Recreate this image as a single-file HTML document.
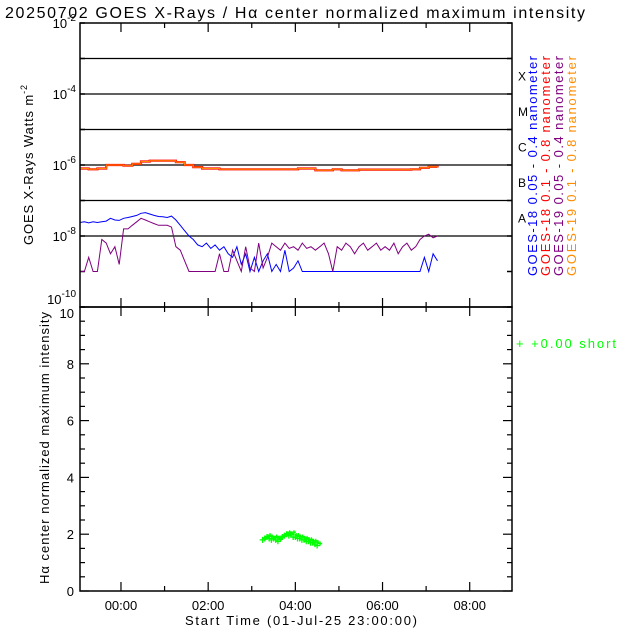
<!DOCTYPE html>
<html><head><meta charset="utf-8"><style>
html,body{margin:0;padding:0;background:#fff}
svg{display:block;font-family:"Liberation Sans",sans-serif}
</style></head><body>
<svg id="c" width="640" height="640" viewBox="0 0 640 640">
<rect width="640" height="640" fill="#fff"/>
<text x="5" y="18" font-size="16" textLength="580" lengthAdjust="spacing">20250702 GOES X-Rays / Hα center normalized maximum intensity</text>
<text transform="translate(33,165) rotate(-90)" text-anchor="middle" font-size="13" textLength="160">GOES X-Rays Watts m<tspan dy="-6" font-size="9">-2</tspan></text>
<text transform="translate(49,448) rotate(-90)" text-anchor="middle" font-size="13" textLength="272">Hα center normalized maximum intensity</text>
<text x="301" y="625" text-anchor="middle" font-size="13" textLength="232">Start Time (01-Jul-25 23:00:00)</text>
<text x="516" y="348" font-size="13" fill="#00ff00" textLength="100">+  +0.00 short</text>
<g id="gtop"></g>
<g id="gbot"></g>
</svg>
<script>
const blueLog=[-7.62,-7.6,-7.63,-7.6,-7.62,-7.6,-7.58,-7.5,-7.55,-7.56,-7.5,-7.48,-7.45,-7.42,-7.36,-7.34,-7.38,-7.42,-7.45,-7.46,-7.48,-7.44,-7.55,-7.7,-7.85,-8.0,-8.1,-8.25,-8.3,-8.2,-8.35,-8.25,-8.4,-8.3,-8.5,-8.6,-8.3,-8.8,-8.5,-9.0,-8.6,-9.0,-8.7,-8.5,-9.0,-8.8,-9.0,-8.4,-9.0,-8.9,-8.7,-9,-9,-9,-9,-9,-9,-9,-9,-9,-9,-9,-9,-9,-9,-9,-9,-9,-9,-9,-9,-9,-9,-9,-9,-9,-9,-9,-9,-8.6,-9,-8.5,-8.7];
const purpleLog=[-9,-9,-8.6,-9,-9,-8.1,-8.2,-8.5,-8.3,-8.8,-7.8,-7.8,-7.7,-7.6,-7.5,-7.55,-7.6,-7.65,-7.7,-7.7,-7.7,-7.75,-8.3,-8.4,-8.7,-9,-9,-9,-9,-9,-9,-9,-8.5,-9,-9,-8.4,-8.7,-9,-8.3,-8.9,-9,-8.2,-8.9,-8.6,-8.2,-8.3,-8.4,-8.2,-8.35,-8.3,-8.4,-8.2,-8.35,-8.3,-8.4,-8.3,-8.2,-8.5,-9,-8.3,-8.4,-8.2,-8.3,-8.5,-8.3,-8.2,-8.4,-8.3,-8.2,-8.4,-8.3,-8.4,-8.2,-8.5,-8.3,-8.2,-8.4,-8.3,-8.1,-8.0,-7.95,-8.05,-8.0];
const longLog=[-6.1,-6.12,-6.1,-6.0,-6.0,-6.02,-5.97,-5.9,-5.88,-5.88,-5.88,-5.92,-6.0,-6.06,-6.1,-6.1,-6.12,-6.12,-6.12,-6.12,-6.12,-6.12,-6.12,-6.12,-6.12,-6.1,-6.1,-6.15,-6.15,-6.12,-6.15,-6.15,-6.13,-6.13,-6.13,-6.13,-6.13,-6.13,-6.12,-6.08,-6.05,-6.07];
const haVals=[1.8,1.85,1.9,1.85,1.8,1.85,1.8,1.75,1.85,1.9,1.95,2.0,1.95,2.0,1.9,1.9,1.85,1.85,1.8,1.8,1.75,1.75,1.7,1.7,1.65,1.6];
const xTickLabels=["00:00","02:00","04:00","06:00","08:00"];
const topYLabels=["-2","-4","-6","-8","-10"];
const botYLabels=["0","2","4","6","8","10"];
const classLetters=["X","M","C","B","A"];
const legendTexts=["GOES-18 0.05 - 0.4 nanometer","GOES-18 0.1 - 0.8 nanometer","GOES-19 0.05 - 0.4 nanometer","GOES-19 0.1 - 0.8 nanometer"];
const legendColors=["#0000ff","#ff0000","#800080","#ff8c00"];

const NS="http://www.w3.org/2000/svg";
const L=80,R=512,T1=23,B1=307,T2=307,B2=591;
const tMin=-0.94,tMax=8.97;
const xS=t=>L+(t-tMin)/(tMax-tMin)*(R-L);
const yTop=lg=>T1+(-2-lg)/8*(B1-T1);
const yBot=v=>B2-v/10*(B2-T2);
function mk(p,tag,at){const e=document.createElementNS(NS,tag);for(const k in at)e.setAttribute(k,at[k]);p.appendChild(e);return e;}
const gT=document.getElementById('gtop'),gB=document.getElementById('gbot'),svgEl=document.getElementById('c');

for(let d=-3;d>=-8;d--){const l=mk(gT,'line',{x1:L,x2:R,y1:yTop(d),y2:yTop(d),stroke:'#000','stroke-width':1.3});

}
for(let d=-2;d>=-10;d--){const y=yTop(d);mk(gT,'line',{x1:L,x2:L+5,y1:y,y2:y,stroke:'#000','stroke-width':1.5});mk(gT,'line',{x1:R-5,x2:R,y1:y,y2:y,stroke:'#000','stroke-width':1.5});}
topYLabels.forEach((s,i)=>{const y=yTop(-2-2*i)+(i===topYLabels.length-1?-3:5);const t=mk(gT,'text',{x:L-4,y:y,'text-anchor':'end','font-size':13});


t.innerHTML='10<tspan dy="-7" font-size="10">'+s+'</tspan>';});
classLetters.forEach((s,i)=>{const t=mk(gT,'text',{x:518,y:yTop(-3.5-i)+4,'font-size':12});


t.textContent=s;});
legendTexts.forEach((s,i)=>{const t=mk(gT,'text',{transform:`translate(${537+i*13},276) rotate(-90)`,'font-size':13,fill:legendColors[i],textLength:220});


t.textContent=s;});
function path(g,arr,step,color,w,name,stepped){let d='';arr.forEach((v,i)=>{const x=xS(tMin+i*step).toFixed(1),y=yTop(v).toFixed(1);
if(i===0)d+='M'+x+','+y;else if(stepped)d+='H'+x+'V'+y;else d+='L'+x+','+y;});
const p=mk(g,'path',{d:d,fill:'none',stroke:color,'stroke-width':w});

}
path(gT,longLog,0.2,'#ff0000',2.2,'goes18-long-series',true);
path(gT,longLog,0.2,'#ff8c00',1,'goes19-long-series',true);
path(gT,blueLog,0.1,'#0000ff',1,'goes18-short-series',false);
path(gT,purpleLog,0.1,'#800080',1,'goes19-short-series',false);

[[T1,B1],[T2,B2]].forEach(([a,b])=>{mk(svgEl,'rect',{x:L,y:a,width:R-L,height:b-a,fill:'none',stroke:'#000','stroke-width':1.5});
for(let h=0;h<=8;h++){const x=xS(h);const len=(h%2===0)?9:5;
mk(svgEl,'line',{x1:x,x2:x,y1:b,y2:b-len,stroke:'#000','stroke-width':1.2});
mk(svgEl,'line',{x1:x,x2:x,y1:a,y2:a+len,stroke:'#000','stroke-width':1.2});}});
xTickLabels.forEach((s,i)=>{const t=mk(gB,'text',{x:xS(i*2),y:610,'text-anchor':'middle','font-size':13});


t.textContent=s;});
for(let v=0;v<=10;v+=0.5){const y=yBot(v);const len=(v%2===0)?9:5;mk(gB,'line',{x1:L,x2:L+len,y1:y,y2:y,stroke:'#000','stroke-width':1.2});mk(gB,'line',{x1:R-len,x2:R,y1:y,y2:y,stroke:'#000','stroke-width':1.2});}
botYLabels.forEach((s,i)=>{const t=mk(gB,'text',{x:L-6,y:yBot(i*2)+(i===botYLabels.length-1?11:5),'text-anchor':'end','font-size':13});


t.textContent=s;});
haVals.forEach((v,i)=>{const x=xS(3.25+i*0.05),y=yBot(v);
const p=mk(gB,'path',{d:`M${x-3},${y}H${x+3}M${x},${y-3}V${y+3}M${x+1},${y-2}H${x+5}M${x+3},${y-4}V${y}`,stroke:'#00ff00','stroke-width':1.3,fill:'none'});

});
</script>
</body></html>
